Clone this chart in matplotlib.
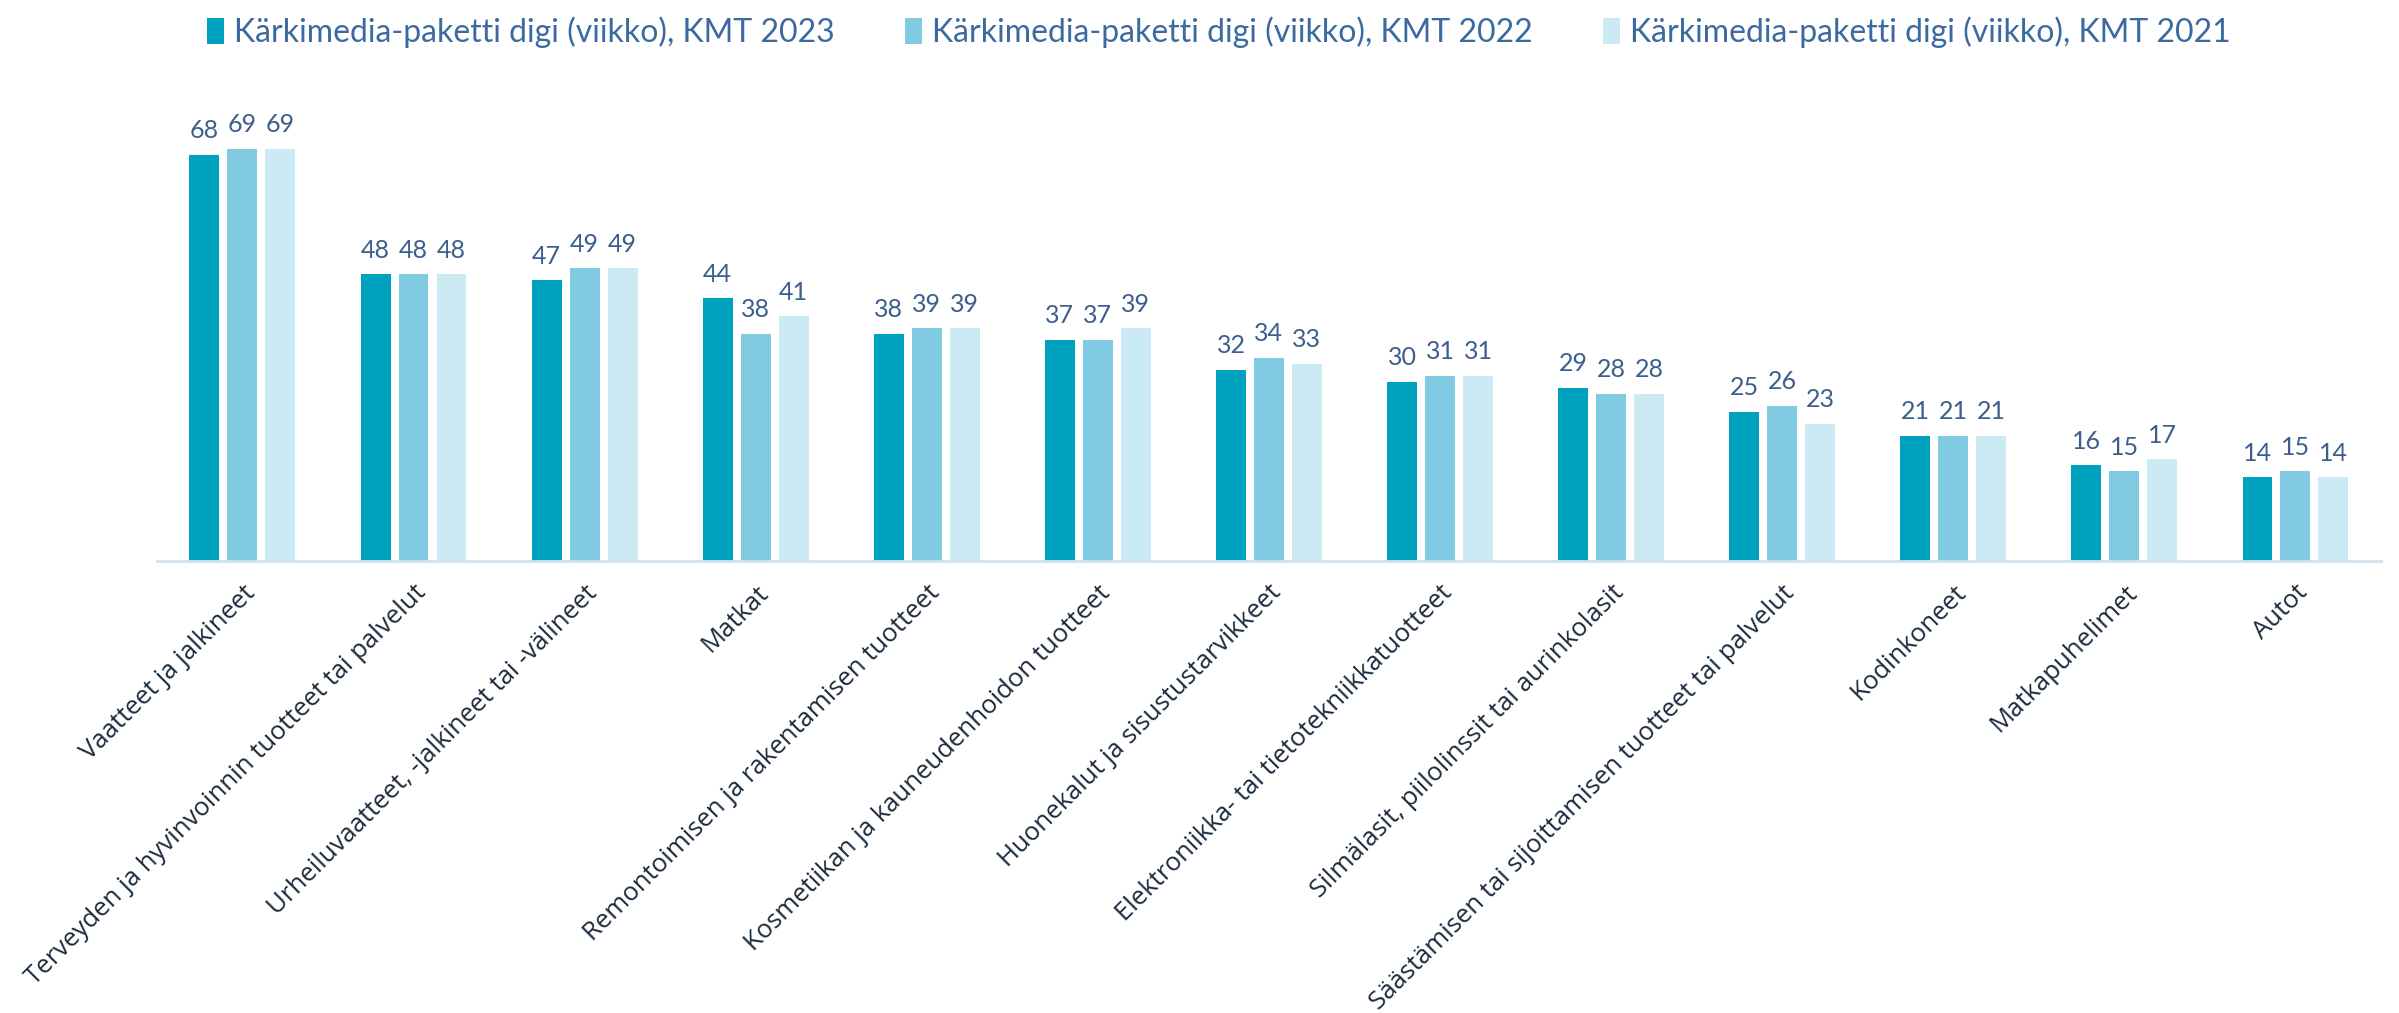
import matplotlib
matplotlib.use("Agg")
import matplotlib.pyplot as plt
import numpy as np

categories = [
    "Vaatteet ja jalkineet",
    "Terveyden ja hyvinvoinnin tuotteet tai palvelut",
    "Urheiluvaatteet, -jalkineet tai -välineet",
    "Matkat",
    "Remontoimisen ja rakentamisen tuotteet",
    "Kosmetiikan ja kauneudenhoidon tuotteet",
    "Huonekalut ja sisustustarvikkeet",
    "Elektroniikka- tai tietotekniikkatuotteet",
    "Silmälasit, piilolinssit tai aurinkolasit",
    "Säästämisen tai sijoittamisen tuotteet tai palvelut",
    "Kodinkoneet",
    "Matkapuhelimet",
    "Autot",
]
series_names = [
    "Kärkimedia-paketti digi (viikko), KMT 2023",
    "Kärkimedia-paketti digi (viikko), KMT 2022",
    "Kärkimedia-paketti digi (viikko), KMT 2021",
]
kmt2023 = [68, 48, 47, 44, 38, 37, 32, 30, 29, 25, 21, 16, 14]
kmt2022 = [69, 48, 49, 38, 39, 37, 34, 31, 28, 26, 21, 15, 15]
kmt2021 = [69, 48, 49, 41, 39, 39, 33, 31, 28, 23, 21, 17, 14]
series = [kmt2023, kmt2022, kmt2021]
colors = ["#00A1BD", "#80CBE1", "#CCEAF3"]

plt.rcParams['font.family'] = ['Lato', 'DejaVu Sans']

fig = plt.figure(figsize=(23.99, 10.13), dpi=100)
ax = fig.add_axes([0.0654, 0.4462, 0.9271, 0.47])

x = np.arange(len(categories))
width = 0.175
pitch = 0.222
for i, (vals, c, name) in enumerate(zip(series, colors, series_names)):
    pos = x + (i - 1) * pitch
    bars = ax.bar(pos, vals, width=width, color=c, label=name, zorder=2)
    for b, v in zip(bars, vals):
        ax.annotate(str(v), (b.get_x() + b.get_width() / 2, v),
                    xytext=(0, 9), textcoords="offset points",
                    ha="center", va="bottom", fontsize=18, color="#3B5E8C")

ax.set_xlim(-0.5, 12.5)
ax.set_ylim(0, 79.7)
for s in ["top", "right", "left"]:
    ax.spines[s].set_visible(False)
ax.spines["bottom"].set_color("#D3E1ED")
ax.spines["bottom"].set_linewidth(2)
ax.set_yticks([])
ax.set_xticks(x)
ax.set_xticklabels(categories, rotation=45, ha="right", rotation_mode="anchor",
                   fontsize=18.5, color="#1B2B3E", family=['Open Sans', 'DejaVu Sans'])
ax.tick_params(axis="x", length=0, pad=14)

leg = fig.legend(loc="upper center", bbox_to_anchor=(0.508, 1.012), ncol=3,
                 frameon=False, fontsize=23, handlelength=0.55, handleheight=0.9,
                 handletextpad=0.3, columnspacing=2.2)
for t in leg.get_texts():
    t.set_color("#3B6AA0")

fig.savefig("out.png", dpi=100)
